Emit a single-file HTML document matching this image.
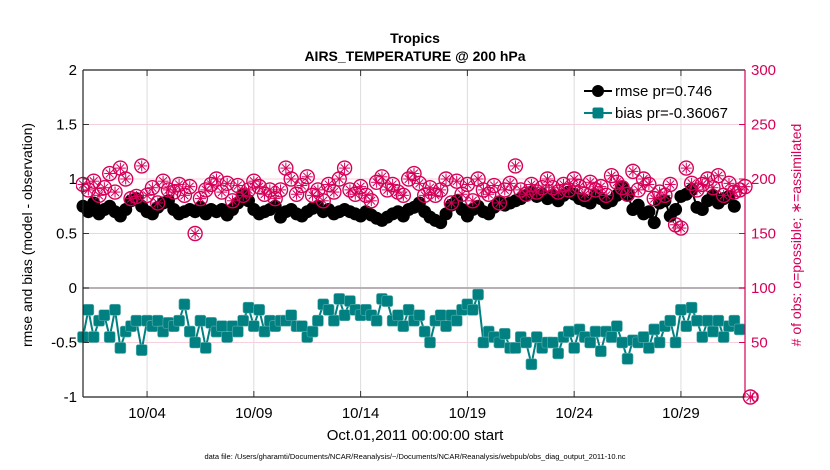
<!DOCTYPE html>
<html><head><meta charset="utf-8"><style>
body{margin:0;background:#fff;}
svg{display:block;font-family:"Liberation Sans",Arial,sans-serif;}
</style></head><body>
<svg id="chart" width="830" height="470" viewBox="0 0 830 470">
<g>
<text x="415" y="43" text-anchor="middle" font-size="14" font-weight="bold">Tropics</text>
<text x="415" y="61" text-anchor="middle" font-size="14" font-weight="bold">AIRS_TEMPERATURE @ 200 hPa</text>
</g>
<g id="grid"></g>
<g id="plot" clip-path="url(#clip)"></g>
<g id="axes"></g>
<defs><clipPath id="clip"><rect x="76" y="63" width="690" height="344"/></clipPath></defs>
<text transform="translate(32,235) rotate(-90)" text-anchor="middle" font-size="14">rmse and bias (model - observation)</text>
<text transform="translate(801,235) rotate(-90)" text-anchor="middle" font-size="14" fill="#d6005a"># of obs: o=possible; ∗=assimilated</text>
<text x="415" y="440" text-anchor="middle" font-size="15">Oct.01,2011 00:00:00 start</text>
<text x="415" y="459" text-anchor="middle" font-size="7.5">data file: /Users/gharamti/Documents/NCAR/Reanalysis/~/Documents/NCAR/Reanalysis/webpub/obs_diag_output_2011-10.nc</text>
<g>
<line x1="584" y1="91" x2="612" y2="91" stroke="#000" stroke-width="2"/>
<circle cx="598" cy="91" r="6" fill="#000"/>
<text x="615" y="96" font-size="15">rmse pr=0.746</text>
<line x1="584" y1="113" x2="612" y2="113" stroke="#008080" stroke-width="2"/>
<rect x="592.5" y="107.5" width="11" height="11" rx="2" fill="#008080"/>
<text x="615" y="118" font-size="15">bias pr=-0.36067</text>
</g>
</svg>
<script>
const xTickLabels = ["10/04","10/09","10/14","10/19","10/24","10/29"];
const xTickDays = [3,8,13,18,23,28];
const yLeftTicks = [2,1.5,1,0.5,0,-0.5,-1];
const yLeftLabels = ["2","1.5","1","0.5","0","-0.5","-1"];
const yRightTicks = [0,50,100,150,200,250,300];
const rmse = [0.75,0.7,0.78,0.68,0.72,0.75,0.7,0.66,0.72,0.8,0.82,0.75,0.7,0.68,0.74,0.78,0.8,0.72,0.68,0.7,0.72,0.7,0.74,0.68,0.72,0.7,0.72,0.67,0.72,0.78,0.85,0.8,0.72,0.68,0.7,0.72,0.75,0.65,0.7,0.72,0.68,0.66,0.7,0.73,0.75,0.7,0.72,0.68,0.7,0.72,0.7,0.68,0.66,0.7,0.67,0.64,0.62,0.65,0.68,0.7,0.66,0.72,0.74,0.78,0.7,0.65,0.62,0.6,0.68,0.76,0.8,0.72,0.66,0.72,0.75,0.7,0.68,0.74,0.78,0.76,0.78,0.8,0.82,0.85,0.88,0.84,0.86,0.82,0.85,0.8,0.85,0.88,0.86,0.82,0.8,0.78,0.85,0.82,0.78,0.8,0.85,0.92,0.86,0.72,0.76,0.68,0.7,0.6,0.78,0.8,0.66,0.72,0.84,0.86,0.9,0.74,0.72,0.8,0.85,0.78,0.82,0.84,0.75];
const bias = [-0.45,-0.2,-0.45,-0.3,-0.25,-0.45,-0.2,-0.55,-0.4,-0.35,-0.3,-0.57,-0.3,-0.35,-0.3,-0.4,-0.32,-0.35,-0.3,-0.15,-0.4,-0.5,-0.3,-0.55,-0.32,-0.4,-0.35,-0.45,-0.35,-0.4,-0.3,-0.18,-0.35,-0.2,-0.4,-0.3,-0.35,-0.3,-0.3,-0.25,-0.35,-0.35,-0.45,-0.4,-0.3,-0.15,-0.2,-0.3,-0.1,-0.25,-0.12,-0.2,-0.25,-0.2,-0.25,-0.3,-0.1,-0.12,-0.3,-0.25,-0.35,-0.2,-0.3,-0.25,-0.4,-0.5,-0.3,-0.25,-0.35,-0.25,-0.3,-0.2,-0.15,-0.2,-0.06,-0.5,-0.4,-0.45,-0.5,-0.42,-0.55,-0.55,-0.45,-0.5,-0.7,-0.45,-0.55,-0.5,-0.5,-0.6,-0.45,-0.4,-0.55,-0.38,-0.45,-0.5,-0.4,-0.58,-0.4,-0.45,-0.35,-0.5,-0.65,-0.48,-0.5,-0.45,-0.55,-0.38,-0.5,-0.35,-0.3,-0.5,-0.2,-0.35,-0.18,-0.3,-0.45,-0.3,-0.4,-0.3,-0.45,-0.35,-0.3,-0.38];
const obsCount = [195,190,198,185,192,205,188,210,200,182,184,212,185,192,178,198,190,188,195,185,193,150,182,190,195,200,188,196,180,194,185,190,198,193,186,190,182,190,210,200,186,194,202,185,190,180,195,188,200,210,190,186,193,185,180,197,202,190,195,188,185,200,205,196,185,192,185,190,200,178,198,186,195,180,200,190,186,194,178,190,196,212,190,186,195,188,192,200,192,188,195,190,200,193,186,197,190,193,185,203,197,192,186,207,190,200,195,182,188,185,195,158,155,210,196,190,195,200,192,203,185,196,188,190,193,0];

const NS="http://www.w3.org/2000/svg";
const L=83,R=745,T=70,B=397;
const dayMin=0, dayMax=31;
const xs=d=>L+(d-dayMin)/(dayMax-dayMin)*(R-L);
const yl=v=>B-(v-(-1))/3*(B-T);
const yr=v=>B-v/300*(B-T);
const dayOf=i=>i*0.25;
function mk(tag,attrs,parent){const e=document.createElementNS(NS,tag);for(const k in attrs)e.setAttribute(k,attrs[k]);parent.appendChild(e);return e;}
const grid=document.getElementById('grid'),plot=document.getElementById('plot'),axes=document.getElementById('axes');

xTickDays.forEach((d,i)=>{
  const g=mk('line',{x1:xs(d),x2:xs(d),y1:T,y2:B,stroke:'#dcdcdc','stroke-width':1},grid);
  
  
  mk('line',{x1:xs(d),x2:xs(d),y1:B,y2:B-6,stroke:'#333'},axes);
  mk('line',{x1:xs(d),x2:xs(d),y1:T,y2:T+6,stroke:'#333'},axes);
  const t=mk('text',{x:xs(d),y:B+21,'text-anchor':'middle','font-size':15},axes);
  t.textContent=xTickLabels[i];
  
  
});
yRightTicks.forEach(v=>{
  if(v>0&&v<300){const g=mk('line',{x1:L,x2:R,y1:yr(v),y2:yr(v),stroke:'#f6d0de','stroke-width':1},grid);
  
  }
  mk('line',{x1:R,x2:R-6,y1:yr(v),y2:yr(v),stroke:'#d6005a'},axes);
  const t=mk('text',{x:R+6,y:yr(v)+5,'font-size':15,fill:'#d6005a'},axes);
  t.textContent=v;
  
  
});
yLeftTicks.forEach((v,i)=>{
  mk('line',{x1:L,x2:L+6,y1:yl(v),y2:yl(v),stroke:'#333'},axes);
  const t=mk('text',{x:L-6,y:yl(v)+5,'text-anchor':'end','font-size':15},axes);
  t.textContent=yLeftLabels[i];
  
  
});
const zl=mk('line',{x1:L,x2:R,y1:yl(0),y2:yl(0),stroke:'#b8b0b4','stroke-width':2},grid);



// rmse
const rp=rmse.map((v,i)=>xs(dayOf(i))+','+yl(v)).join(' ');
const rl=mk('polyline',{points:rp,fill:'none',stroke:'#000','stroke-width':2},plot);


rmse.forEach((v,i)=>{
  const c=mk('circle',{cx:xs(dayOf(i)),cy:yl(v),r:6.5,fill:'#000'},plot);
  
  
});
// obs markers
obsCount.forEach((v,i)=>{
  const x=xs(dayOf(i)),y=yr(v);
  const g=mk('g',{stroke:'#d6005a','stroke-width':1,fill:'none'},plot);
  
  
  mk('circle',{cx:x,cy:y,r:7,'stroke-width':1.4},g);
  for(let a=0;a<4;a++){const an=a*Math.PI/4;mk('line',{x1:x-5.5*Math.cos(an),y1:y-5.5*Math.sin(an),x2:x+5.5*Math.cos(an),y2:y+5.5*Math.sin(an)},g);}
});
// bias
const bp=bias.map((v,i)=>xs(dayOf(i))+','+yl(v)).join(' ');
const bl=mk('polyline',{points:bp,fill:'none',stroke:'#008080','stroke-width':2},plot);


bias.forEach((v,i)=>{
  const r=mk('rect',{x:xs(dayOf(i))-5.5,y:yl(v)-5.5,width:11,height:11,rx:2,fill:'#008080',stroke:'#5fb0b0','stroke-width':0.6},plot);
  
  
});
// axes box
mk('line',{x1:L,x2:L,y1:T,y2:B,stroke:'#222','stroke-width':1.2},axes);
mk('line',{x1:L,x2:R,y1:T,y2:T,stroke:'#222','stroke-width':1.2},axes);
mk('line',{x1:L,x2:R,y1:B,y2:B,stroke:'#222','stroke-width':1.2},axes);
mk('line',{x1:R,x2:R,y1:T,y2:B,stroke:'#d6005a','stroke-width':1.2},axes);
</script>
</body></html>
